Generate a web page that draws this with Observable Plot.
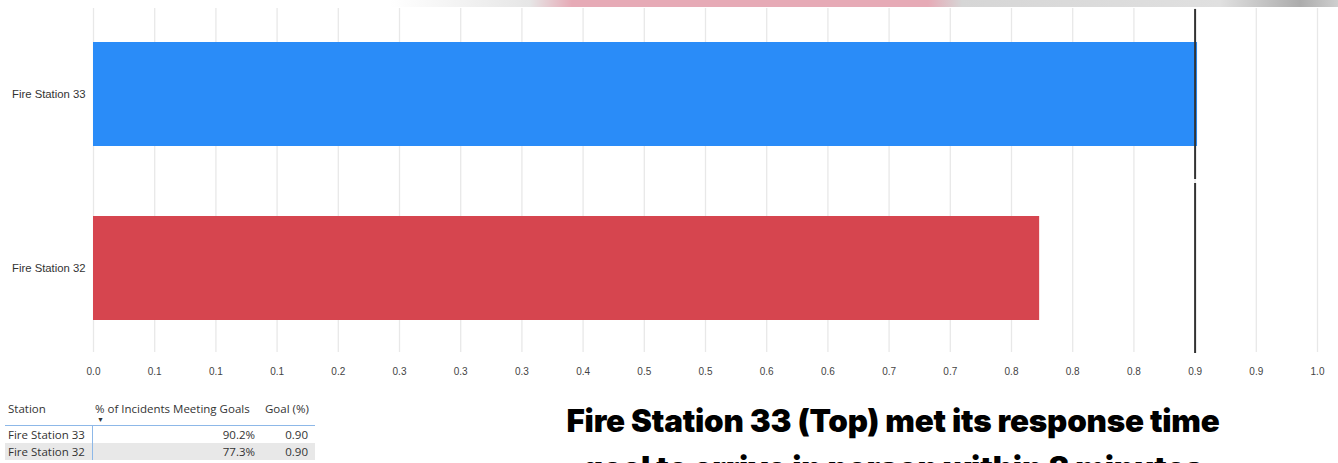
<!DOCTYPE html>
<html>
<head>
<meta charset="utf-8">
<script src="https://cdn.jsdelivr.net/npm/d3@7"></script>
<script src="https://cdn.jsdelivr.net/npm/@observablehq/plot@0.6"></script>
<style>
  html, body { margin: 0; padding: 0; background: #fff; overflow: hidden; }
  body { width: 1338px; height: 463px; position: relative; }
  #chart { position: absolute; left: 0; top: 0; }
  #band {
    position: absolute; left: 0; top: 0; width: 1338px; height: 7px;
    background: linear-gradient(to right,
      #ffffff 0px, #ffffff 390px, #e6e6e6 530px, #e6aab6 572px,
      #e6aab6 928px, #d6d6d6 962px, #e0e0e0 1220px, #acacac 1300px, #cfcfcf 1338px);
    filter: blur(0.5px);
  }
  #summary {
    position: absolute; left: 5px; top: 400px; width: 310px;
    border-collapse: collapse; font-family: "Open Sans", "Noto Sans", sans-serif;
    font-size: 11.5px; color: #333;
  }
  #summary th { font-weight: 400; text-align: left; padding: 0 3px; height: 24px; vertical-align: top; padding-top: 1px; border-bottom: 1.5px solid #8db8e8; position: relative; white-space: nowrap; }
  #summary th.goal { padding-left: 7px; }
  #summary td { padding: 0 3px; height: 17px; line-height: 17px; white-space: nowrap; }
  #summary td.num { text-align: right; }
  #summary td.last { padding-right: 7px; }
  #summary td.first { border-right: 1.5px solid #8db8e8; }
  #summary tr.alt td { background: #e8e8e8; }
  .sort { position: absolute; left: 5px; top: 15px; font-size: 7px; color: #333; }
  #headline {
    position: absolute; left: 493px; top: 398px; width: 800px; text-align: center;
    font-family: Inter, Roboto, sans-serif; font-weight: 900; font-size: 31.4px;
    line-height: 47px; color: #000; letter-spacing: -0.2px;
  }
</style>
</head>
<body>
<div id="chart"></div>
<div id="band"></div>
<table id="summary"></table>
<div id="headline"></div>
<script>
// Share of incidents meeting the response-time goal, per station
const stations = ["Fire Station 33", "Fire Station 32"];
const meetingGoal = [0.902, 0.773];
const goals = [0.90, 0.90];
const barColors = ["#2a8cf8", "#d6454f"];

// Axis ticks every 0.05, labelled with one decimal place
const tickValues = d3.range(0, 21).map(i => i * 0.05);
const tickLabels = ["0.0","0.1","0.1","0.1","0.2","0.3","0.3","0.3","0.4","0.5","0.5",
                    "0.6","0.6","0.7","0.7","0.8","0.8","0.8","0.9","0.9","1.0"];

const headlineLines = ["Fire Station 33 (Top) met its response time",
                       "goal to arrive in person within 8 minutes"];

const rows = stations.map((s, i) => ({station: s, pct: meetingGoal[i], goal: goals[i]}));

const chart = Plot.plot({
  width: 1338,
  height: 385,
  marginLeft: 93,
  marginRight: 21,
  marginTop: 6,
  marginBottom: 30,
  style: {fontFamily: "Liberation Sans, Arial, sans-serif", background: "transparent"},
  x: {domain: [0, 1]},
  y: {domain: stations, paddingInner: 0.404, paddingOuter: 0.202},
  color: {domain: stations, range: barColors},
  marks: [
    Plot.gridX(tickValues, {stroke: "#e8e8e8", strokeOpacity: 1, strokeWidth: 1.3, insetTop: 2, insetBottom: 3}),
    Plot.axisX({
      ticks: tickValues, tickSize: 0, tickPadding: 12, fontSize: 10, fill: "#444",
      tickFormat: (d, i) => tickLabels[i], label: null
    }),
    Plot.axisY({tickSize: 0, tickPadding: 8, fontSize: 11.3, fill: "#333", label: null}),
    Plot.barX(rows, {x: "pct", y: "station", fill: "station"}),
    // goal marker, stretched across each row's full step
    Plot.tickX(rows, {x: "goal", y: "station", stroke: "#333", strokeWidth: 2, insetTop: -33, insetBottom: -33})
  ]
});
document.getElementById("chart").appendChild(chart);

// Summary table
const table = document.getElementById("summary");
table.innerHTML =
  `<tr><th style="width:81px">Station</th><th style="width:160px">% of Incidents Meeting Goals<span class="sort">&#9660;</span></th><th class="goal">Goal (%)</th></tr>` +
  rows.map((r, i) =>
    `<tr class="${i % 2 ? "alt" : ""}"><td class="first">${r.station}</td><td class="num">${d3.format(".1%")(r.pct)}</td><td class="num last">${d3.format(".2f")(r.goal)}</td></tr>`
  ).join("");

document.getElementById("headline").innerHTML = headlineLines.join("<br>");
</script>
</body>
</html>
